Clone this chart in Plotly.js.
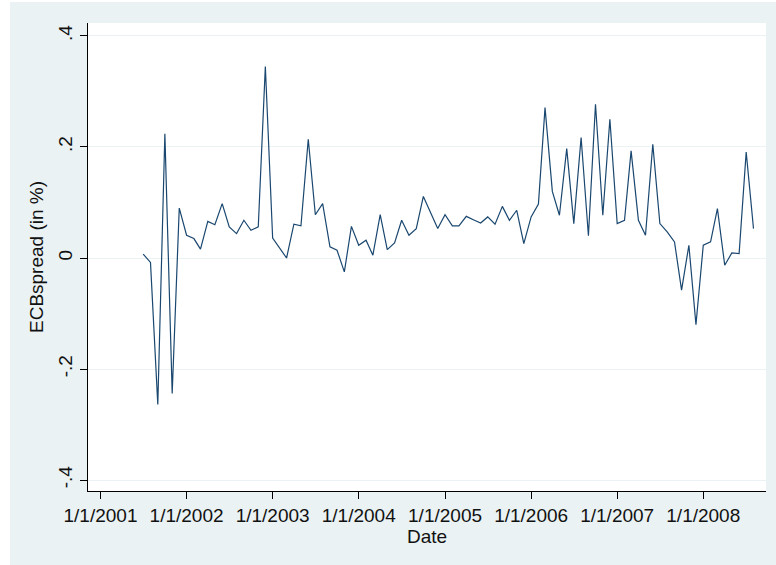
<!DOCTYPE html>
<html>
<head>
<meta charset="utf-8">
<script src="https://cdn.plot.ly/plotly-3.0.1.min.js"></script>
<style>
  html, body { margin: 0; padding: 0; background: #ffffff; }
  #chart { position: absolute; left: 10px; top: 2px; width: 766px; height: 563px; }
</style>
</head>
<body>
<div id="chart"></div>
<script>
// Monthly observations (first of each month), Jul 2001 – Aug 2008
const startYear = 2001;
const startMonth = 7; // July
const ecbSpread = [
  // 2001 Jul-Dec
  0.007, -0.008, -0.264, 0.224, -0.244, 0.090,
  // 2002
  0.041, 0.035, 0.016, 0.066, 0.060, 0.098, 0.056, 0.044, 0.068, 0.050, 0.056, 0.345,
  // 2003
  0.036, 0.018, 0.000, 0.061, 0.058, 0.214, 0.078, 0.098, 0.020, 0.014, -0.025, 0.057,
  // 2004
  0.023, 0.032, 0.005, 0.078, 0.015, 0.027, 0.068, 0.041, 0.053, 0.111, 0.080, 0.053,
  // 2005
  0.078, 0.058, 0.058, 0.075, 0.069, 0.063, 0.074, 0.061, 0.093, 0.068, 0.086, 0.026,
  // 2006
  0.074, 0.097, 0.271, 0.120, 0.077, 0.197, 0.062, 0.217, 0.040, 0.277, 0.077, 0.250,
  // 2007
  0.062, 0.068, 0.193, 0.068, 0.041, 0.205, 0.062, 0.047, 0.029, -0.058, 0.023, -0.120,
  // 2008 Jan-Aug
  0.023, 0.029, 0.089, -0.013, 0.009, 0.008, 0.191, 0.053
];
const dates = ecbSpread.map((_, i) => {
  const m0 = (startMonth - 1) + i;
  const y = startYear + Math.floor(m0 / 12);
  const m = (m0 % 12) + 1;
  return y + '-' + String(m).padStart(2, '0') + '-01';
});

const xTickVals = ['2001-01-01','2002-01-01','2003-01-01','2004-01-01','2005-01-01','2006-01-01','2007-01-01','2008-01-01'];
const xTickText = ['1/1/2001','1/1/2002','1/1/2003','1/1/2004','1/1/2005','1/1/2006','1/1/2007','1/1/2008'];
const yTickVals = [-0.4, -0.2, 0, 0.2, 0.4];
const yTickText = ['-.4', '-.2', '0', '.2', '.4'];

const font = { family: 'Liberation Sans, Arial, sans-serif', size: 19, color: '#111111' };

const trace = {
  x: dates,
  y: ecbSpread,
  type: 'scatter',
  mode: 'lines',
  line: { color: '#1a476f', width: 1.2 },
  hoverinfo: 'x+y'
};

const layout = {
  width: 766,
  height: 563,
  paper_bgcolor: '#eaf2f3',
  plot_bgcolor: '#ffffff',
  margin: { l: 78, r: 10, t: 21, b: 74 },
  showlegend: false,
  font: font,
  xaxis: {
    type: 'date',
    range: ['2000-11-09', '2008-09-23'],
    tickmode: 'array',
    tickvals: xTickVals,
    ticktext: xTickText,
    ticks: 'outside',
    ticklen: 7,
    tickwidth: 1,
    tickcolor: '#000000',
    showline: true,
    linecolor: '#000000',
    linewidth: 1,
    showgrid: false,
    zeroline: false,
    tickfont: font,
    title: { text: 'Date', font: font, standoff: 2 }
  },
  yaxis: {
    range: [-0.4198, 0.4234],
    tickmode: 'array',
    tickvals: yTickVals,
    ticktext: yTickText,
    tickangle: -90,
    ticks: 'outside',
    ticklen: 7,
    tickwidth: 1,
    tickcolor: '#000000',
    showline: true,
    linecolor: '#000000',
    linewidth: 1,
    showgrid: true,
    gridcolor: '#eaf2f3',
    gridwidth: 1,
    zeroline: false,
    tickfont: font,
    title: { text: 'ECBspread (in %)', font: font, standoff: 6 }
  }
};

Plotly.newPlot('chart', [trace], layout, { displayModeBar: false, staticPlot: true });
</script>
</body>
</html>
